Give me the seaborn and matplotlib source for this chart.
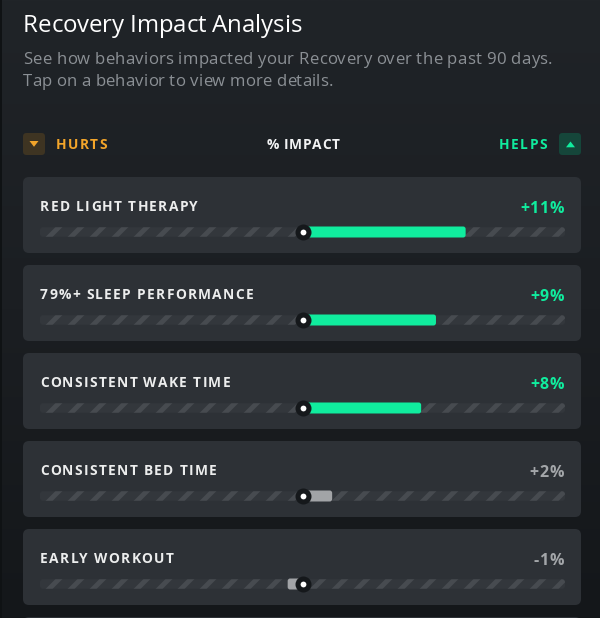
import numpy as np
import pandas as pd
import seaborn as sns
import matplotlib
matplotlib.use("Agg")
import matplotlib.pyplot as plt
from matplotlib.patches import FancyBboxPatch, Polygon
from matplotlib.transforms import ScaledTranslation
from matplotlib.font_manager import FontProperties
from matplotlib.colors import LinearSegmentedColormap

# ---------------- data ----------------
behaviors = ["RED LIGHT THERAPY", "79%+ SLEEP PERFORMANCE", "CONSISTENT WAKE TIME",
             "CONSISTENT BED TIME", "EARLY WORKOUT"]
impact = [11, 9, 8, 2, -1]
impact_labels = ["+11%", "+9%", "+8%", "+2%", "-1%"]
significant = [True, True, True, False, False]
title = "Recovery Impact Analysis"
subtitle = ["See how behaviors impacted your Recovery over the past 90 days.",
            "Tap on a behavior to view more details."]
hurts_label, axis_label, helps_label = "HURTS", "% IMPACT", "HELPS"
TRACK_LIMIT = 17.7  # % at either end of the striped track

# ---------------- style ----------------
W, H, DPI = 600, 618, 132
FONT = ["Open Sans", "DejaVu Sans"]
GREEN = "#10ec9e"
GRAY_BAR = "#a2a4a7"
GRAY_TXT = "#a3a6a9"
ORANGE = "#f3a52a"
CARD = "#2d3136"
TRACK_FACE = "#33373c"
TRACK_HATCH = "#474b50"

sns.set_theme(style="white")
plt.rcParams["font.family"] = FONT
plt.rcParams["hatch.linewidth"] = 2.7


def pt(px):
    return px * 72.0 / DPI


fig = plt.figure(figsize=(W / DPI, H / DPI), dpi=DPI)
fig.patch.set_facecolor("#1e2226")

# background / layout axes in pixel coordinates
bg = fig.add_axes([0, 0, 1, 1], zorder=0)
bg.set_xlim(0, W)
bg.set_ylim(H, 0)
bg.axis("off")
cmap = LinearSegmentedColormap.from_list("bg", ["#202428", "#1b1e22", "#14171a"])
grad = np.linspace(0, 1, 256).reshape(-1, 1)
bg.imshow(grad, extent=[0, W, H, 0], aspect="auto", cmap=cmap, zorder=0)
bg.add_patch(plt.Rectangle((0, 0), 2, H, color="#0f1214", zorder=1, lw=0))

# bar axes: x in % impact, y in behavior rows
ax = fig.add_axes([0, 0, 1, 1], zorder=1)
ax.patch.set_alpha(0)

X0_PX, X1_PX = 40, 565        # track pixel extent
ROW0_PX, ROW_STEP = 232, 88   # first bar centre / row spacing
px_x = (X1_PX - X0_PX) / (2 * TRACK_LIMIT)
px_y = ROW_STEP

df = pd.DataFrame({"behavior": behaviors, "impact": impact})
colors = [GREEN if s else GRAY_BAR for s in significant]
sns.barplot(data=df, x="impact", y="behavior", hue="behavior", palette=colors,
            legend=False, orient="h", width=11 / px_y, saturation=1,
            errorbar=None, ax=ax, zorder=2, linewidth=0)
bar_patches = list(ax.patches)

n = len(behaviors)
rows = np.arange(n)
ax.barh(rows, 2 * TRACK_LIMIT, left=-TRACK_LIMIT, height=9.5 / px_y,
        color=TRACK_FACE, edgecolor=TRACK_HATCH, hatch="//", linewidth=0, zorder=1)
track_patches = [p for p in ax.patches if p not in bar_patches]

ax.set_xlim(-TRACK_LIMIT - X0_PX / px_x, TRACK_LIMIT + (W - X1_PX) / px_x)
ax.set_ylim((H - ROW0_PX) / px_y, -ROW0_PX / px_y)
ax.axis("off")

aspect = px_x / px_y


def round_patch(p, radius_px, **kw):
    x, y, w, h = p.get_x(), p.get_y(), p.get_width(), p.get_height()
    if w < 0:
        x, w = x + w, -w
    r = min(radius_px / px_x, w / 2)
    fb = FancyBboxPatch((x, y), w, h, boxstyle=f"round,pad=0,rounding_size={r}",
                        mutation_aspect=aspect, facecolor=p.get_facecolor(),
                        zorder=p.get_zorder(), **kw)
    p.remove()
    ax.add_patch(fb)


for p in bar_patches:
    round_patch(p, 2.5, linewidth=0)
for p in track_patches:
    round_patch(p, 3, linewidth=0, edgecolor=TRACK_HATCH, hatch="//")

# zero marker
ax.scatter(np.zeros(n), rows, s=(pt(16)) ** 2, color="#15181b", zorder=3, linewidths=0)
ax.scatter(np.zeros(n), rows, s=(pt(5.8)) ** 2, color="white", zorder=4, linewidths=0)

# cards (layout)
for i in range(n + 1):
    top = ROW0_PX + ROW_STEP * i - 55
    bg.add_patch(FancyBboxPatch((23, top), 558, 76, boxstyle="round,pad=0,rounding_size=6",
                                facecolor=CARD, edgecolor="none", zorder=2))

# ---------------- text ----------------
renderer = fig.canvas.get_renderer()


def adv_px(ch, fp):
    w1 = renderer.get_text_width_height_descent("H" + ch + "H", fp, ismath=False)[0]
    w0 = renderer.get_text_width_height_descent("HH", fp, ismath=False)[0]
    return w1 - w0


def spaced(axes, x, y, s, size_px, color, spacing_px=0.0, ha="left", weight="bold",
           base=None, zorder=5, fit_width=None):
    fp = FontProperties(family=FONT, weight=weight, size=pt(size_px))
    advs = [adv_px(c, fp) for c in s]
    if fit_width is not None:
        spacing_px = (fit_width - sum(advs)) / (len(s) - 1)
    total = sum(advs) + spacing_px * (len(s) - 1)
    off = {"left": 0, "center": -total / 2, "right": -total}[ha]
    base = base if base is not None else axes.transData
    for c, a in zip(s, advs):
        tr = base + ScaledTranslation(off / DPI, 0, fig.dpi_scale_trans)
        axes.text(x, y, c, transform=tr, fontproperties=fp, color=color,
                  ha="left", va="baseline", zorder=zorder)
        off += a + spacing_px
    return spacing_px


spaced(bg, 23, 32.5, title, 24, "#ffffff", weight="medium", fit_width=279)
spaced(bg, 23, 64.5, subtitle[0], 16.8, "#8b9095", weight="normal", fit_width=529)
spaced(bg, 23, 86, subtitle[1], 16.8, "#8b9095", weight="normal", fit_width=310)

# hurts / helps legend row
bg.add_patch(FancyBboxPatch((23, 133), 22, 22, boxstyle="round,pad=0,rounding_size=3.5",
                            facecolor="#3e3422", edgecolor="none", zorder=3))
bg.add_patch(Polygon([(29.5, 141), (38.5, 141), (34, 146.8)], closed=True,
                     facecolor=ORANGE, edgecolor="none", zorder=4))
bg.add_patch(FancyBboxPatch((559, 133), 22, 22, boxstyle="round,pad=0,rounding_size=3.5",
                            facecolor="#15463a", edgecolor="none", zorder=3))
bg.add_patch(Polygon([(566, 147.3), (575, 147.3), (570.5, 141.5)], closed=True,
                     facecolor=GREEN, edgecolor="none", zorder=4))
spaced(bg, 56, 149, hurts_label, 13.8, ORANGE, fit_width=51)
spaced(bg, 303, 149, axis_label, 13.8, "#f2f3f4", fit_width=73, ha="center")
spaced(bg, 547, 149, helps_label, 13.8, GREEN, fit_width=48, ha="right")

# per-behaviour labels and values, positioned on the behaviour rows
label_base = ax.transData + ScaledTranslation(0, 21.3 / DPI, fig.dpi_scale_trans)
value_base = ax.transData + ScaledTranslation(0, 19.3 / DPI, fig.dpi_scale_trans)
fp_lab = FontProperties(family=FONT, weight="bold", size=pt(13.8))
lab_spacing = (158 - sum(adv_px(c, fp_lab) for c in behaviors[0])) / (len(behaviors[0]) - 1)
for i, (name, lab, sig) in enumerate(zip(behaviors, impact_labels, significant)):
    spaced(ax, -TRACK_LIMIT, i, name, 13.8, "#eceded", lab_spacing, base=label_base)
    spaced(ax, TRACK_LIMIT - 0.1, i, lab, 16, GREEN if sig else GRAY_TXT, 0.5,
           ha="right", base=value_base)

fig.savefig("out.png", dpi=DPI, facecolor=fig.get_facecolor())
